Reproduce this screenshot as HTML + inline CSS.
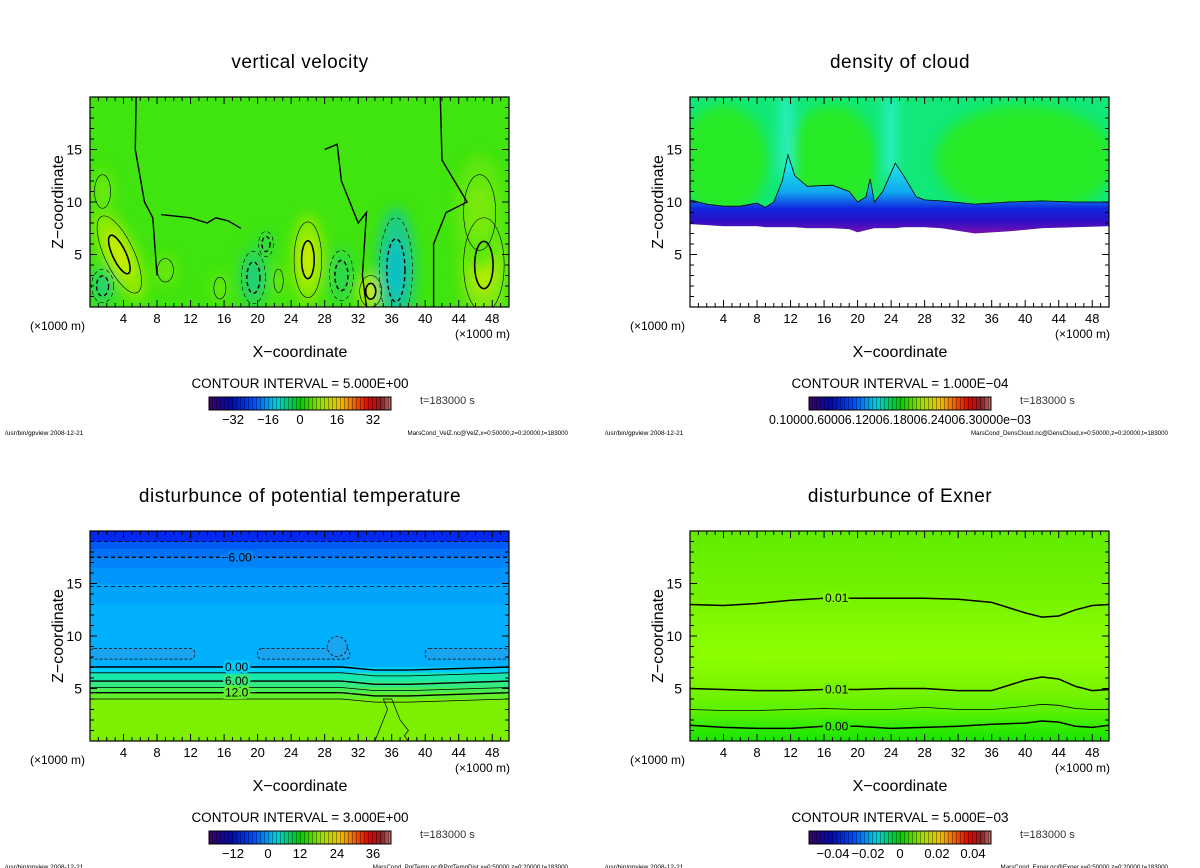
<!DOCTYPE html>
<html><head><meta charset="utf-8"><style>
html,body{margin:0;padding:0;background:#fff;}
svg{display:block;font-family:"Liberation Sans","DejaVu Sans",sans-serif;}
</style></head><body>
<svg id="fig" width="1200" height="868" viewBox="0 0 1200 868" xmlns="http://www.w3.org/2000/svg">
<defs>
<linearGradient id="cbar" x1="0" x2="1" y1="0" y2="0">
<stop offset="0" stop-color="#3a0060"/><stop offset="0.12" stop-color="#0008b0"/><stop offset="0.25" stop-color="#0050ff"/><stop offset="0.37" stop-color="#00d0e0"/><stop offset="0.5" stop-color="#00c800"/><stop offset="0.62" stop-color="#a0e000"/><stop offset="0.72" stop-color="#f0c000"/><stop offset="0.8" stop-color="#f06000"/><stop offset="0.88" stop-color="#e00000"/><stop offset="0.95" stop-color="#802828"/><stop offset="1" stop-color="#d07070"/>
</linearGradient>
<pattern id="stripes" width="4" height="20" patternUnits="userSpaceOnUse"><rect x="0" y="0" width="1" height="20" fill="rgba(0,0,0,0.35)"/></pattern>
<filter id="blur6" x="-50%" y="-50%" width="200%" height="200%"><feGaussianBlur stdDeviation="6"/></filter>
<filter id="blur3" x="-50%" y="-50%" width="200%" height="200%"><feGaussianBlur stdDeviation="3"/></filter>
<linearGradient id="cloudG" gradientUnits="userSpaceOnUse" x1="0" x2="0" y1="150" y2="230">
<stop offset="0" stop-color="#20f0e0"/><stop offset="0.45" stop-color="#10a8f0"/><stop offset="0.68" stop-color="#1028e0"/><stop offset="0.85" stop-color="#2810c8"/><stop offset="1" stop-color="#7010b0"/>
</linearGradient>
<linearGradient id="exnerG" x1="0" x2="0" y1="0" y2="1">
<stop offset="0" stop-color="#62ec00"/><stop offset="0.3" stop-color="#72f200"/><stop offset="0.45" stop-color="#84fa00"/><stop offset="0.6" stop-color="#8cff00"/><stop offset="0.75" stop-color="#7af400"/><stop offset="0.86" stop-color="#5af000"/><stop offset="0.93" stop-color="#34ec00"/><stop offset="1" stop-color="#18e400"/>
</linearGradient>
<clipPath id="c1"><rect x="90" y="97" width="419" height="210"/></clipPath>
<clipPath id="c2"><rect x="690" y="97" width="419" height="210"/></clipPath>
<clipPath id="c3"><rect x="90" y="531" width="419" height="210"/></clipPath>
<clipPath id="c4"><rect x="690" y="531" width="419" height="210"/></clipPath>
</defs>
</svg>
<script>
// ---------- data ----------
const xTicks=[4,8,12,16,20,24,28,32,36,40,44,48];
const zTicks=[5,10,15];
// vertical velocity: positive (updraft) blobs
const upX=[3.5,26,33.5,47,9,15.5,22.5,46.5,1.5];
const upZ=[5,4.5,1.5,4,3.5,1.8,2.5,9,11];
const upRx=[1.6,1.5,1.2,2.2,1.2,0.9,0.7,2.4,1.2];
const upRz=[4,3.6,1.5,4.5,1.4,1.3,1.4,4.5,2];
const upVal=[14,14,16,12,5,5,5,6,5];
// vertical velocity: negative (downdraft) blobs
const dnX=[1.5,19.5,30,36.5,21];
const dnZ=[2,2.8,3,3.5,6];
const dnRx=[1.2,1.3,1.3,1.8,0.8];
const dnRz=[1.6,2.5,2.4,5,1.2];
const dnVal=[-9,-10,-6,-16,-5];
// density of cloud: cloud top / base
const cloudX=[0,2,4,6,8,9,10,11,11.7,12.5,14,17,19,20,21,21.5,22,23,24.5,25.5,27,28,30,34,38,42,46,50];
const cloudTop=[10.2,9.8,9.6,9.6,9.9,9.5,10,12,14.5,12.5,11.5,11.6,11,10,10.5,12.2,10,11,13.7,12.5,10.5,10.2,10.1,9.8,10,10.1,10,10];
const cloudBase=[7.9,7.8,7.7,7.7,7.7,7.6,7.6,7.6,7.6,7.6,7.5,7.5,7.4,7.1,7.3,7.4,7.5,7.5,7.5,7.6,7.6,7.6,7.5,7.0,7.2,7.5,7.6,7.7];
// potential temperature: band boundaries (z top) and values
const ptBandTop=[20,19,18.3,17.5,16.5,15,13,7.05,6.5,5.7,5.1,4.6,4.0];
const ptBandVal=[-12,-10,-9,-8,-7,-6,-5,0,3,6,9,12,15];
const ptLineZ=[19,17.5,14.7,7.05,6.5,5.7,5.1,4.6,4.0];
const ptLineVal=[-9,-6,-3,0,3,6,9,12,15];
// Exner contours
const exX=[0,4,8,12,16,20,24,28,32,36,40,42,44,46,48,50];
const ex13=[13,12.9,13.1,13.4,13.6,13.6,13.6,13.6,13.5,13.2,12.2,11.8,11.9,12.5,12.9,13];
const ex5=[5,4.9,4.8,4.8,4.9,4.9,5,5,4.8,4.8,5.8,6.1,5.9,5.2,4.8,4.9];
const ex3=[3,2.9,2.9,3,3.1,3,3,3.2,3,3,3.3,3.5,3.4,3.1,3,3];
const ex15=[1.5,1.3,1.2,1.2,1.4,1.4,1.2,1.3,1.4,1.6,1.7,1.9,1.8,1.4,1.3,1.5];
const cb1Labels=["\u221232","\u221216","0","16","32"];
const cb3Labels=["\u221212","0","12","24","36"];
const cb4Labels=["\u22120.04","\u22120.02","0","0.02","0.04"];

// ---------- helpers ----------
const NS="http://www.w3.org/2000/svg";
const svg=document.getElementById('fig');
function mk(tag,attrs,parent,text){const e=document.createElementNS(NS,tag);for(const k in attrs)e.setAttribute(k,attrs[k]);if(text!==undefined)e.textContent=text;(parent||svg).appendChild(e);return e;}
function axes(ox,oy){return {X:km=>ox+km*419/50, Z:km=>oy+210-km*210/20};}
function velColor(v){
  if(v>=0){const t=Math.min(v/16,1);const r=Math.round(61+t*(225-61)),g=Math.round(230+t*(238-230)),b=Math.round(12*(1-t));return `rgb(${r},${g},${b})`;}
  const t=Math.min(-v/16,1);return `rgb(${Math.round(61*(1-t))},${Math.round(230-t*50)},${Math.round(12+t*238)})`;}
function ptColor(v){
  if(v<=0){const t=Math.min(-v/12,1);return `rgb(0,${Math.round(205-t*t*165)},${Math.round(255-t*t*15)})`;}
  const t=Math.min(v/15,1);return `rgb(${Math.round(t*124)},${Math.round(230+t*10)},${Math.round(215*(1-t))})`;}
function poly(A,xs,zs){return xs.map((x,i)=>A.X(x).toFixed(1)+','+A.Z(zs[i]).toFixed(1)).join(' ');}

function frame(ox,oy,dx,dy,title,fname,cint,cbLabels,cbName){
  const A=axes(ox,oy);
  const g=mk('g',{});
  
  
  const box=mk('rect',{x:ox,y:oy,width:419,height:210,fill:'none',stroke:'#000','stroke-width':1.2},g);
  
  
  for(let k=1;k<50;k++){const L=k%4===0?7:4;
    const t1=mk('line',{x1:A.X(k),x2:A.X(k),y1:oy+210,y2:oy+210-L,stroke:'#000','stroke-width':1},g);
    
    
    const t2=mk('line',{x1:A.X(k),x2:A.X(k),y1:oy,y2:oy+L,stroke:'#000','stroke-width':1},g);
    
    }
  for(let k=1;k<20;k++){const L=k%5===0?7:4;
    const t1=mk('line',{x1:ox,x2:ox+L,y1:A.Z(k),y2:A.Z(k),stroke:'#000','stroke-width':1},g);
    
    
    const t2=mk('line',{x1:ox+419,x2:ox+419-L,y1:A.Z(k),y2:A.Z(k),stroke:'#000','stroke-width':1},g);
    
    }
  xTicks.forEach(v=>{const t=mk('text',{x:A.X(v),y:oy+226,'font-size':13,'text-anchor':'middle'},g,String(v));
    
    });
  zTicks.forEach(v=>{const t=mk('text',{x:ox-8,y:A.Z(v)+5,'font-size':14,'text-anchor':'end'},g,String(v));
    
    });
  let t=mk('text',{x:300+dx,y:68+dy,'font-size':19,'text-anchor':'middle','letter-spacing':'0.5'},svg,title);
  
  
  t=mk('text',{x:63+dx,y:202+dy,'font-size':16,'text-anchor':'middle',transform:`rotate(-90 ${63+dx} ${202+dy})`},svg,'Z\u2212coordinate');
  
  
  t=mk('text',{x:300+dx,y:357+dy,'font-size':16,'text-anchor':'middle'},svg,'X\u2212coordinate');
  
  
  t=mk('text',{x:30+dx,y:330+dy,'font-size':12},svg,'(\u00d71000 m)');
  
  
  t=mk('text',{x:455+dx,y:338+dy,'font-size':12},svg,'(\u00d71000 m)');
  
  
  t=mk('text',{x:300+dx,y:388+dy,'font-size':13.5,'text-anchor':'middle'},svg,'CONTOUR INTERVAL = '+cint);
  
  
  let r=mk('rect',{x:209+dx,y:397+dy,width:182,height:13,fill:'url(#cbar)'});
  
  
  r=mk('rect',{x:209+dx,y:397+dy,width:182,height:13,fill:'url(#stripes)',stroke:'#000','stroke-width':1});
  
  
  if(cbLabels){const pos=[233,268,300,337,373];
    cbLabels.forEach((s,i)=>{const l=mk('text',{x:pos[i]+dx,y:424+dy,'font-size':13,'text-anchor':'middle'},svg,s);
      
      });}
  t=mk('text',{x:420+dx,y:404+dy,'font-size':11,fill:'#333'},svg,'t=183000 s');
  
  
  t=mk('text',{x:5+dx,y:435+dy,'font-size':6.5},svg,'/usr/bin/gpview   2008-12-21');
  
  
  t=mk('text',{x:568+dx,y:435+dy,'font-size':6.2,'text-anchor':'end'},svg,fname);
  
  
  return A;
}
function contourLabel(x,y,s,bg){const t=mk('text',{x:x,y:y+4,'font-size':12,'text-anchor':'middle',stroke:bg,'stroke-width':5,'paint-order':'stroke',fill:'#000'},svg,s);
  
  }

// ---------- panel 1: vertical velocity ----------
(function(){
  const A=axes(90,97);
  const g=mk('g',{'clip-path':'url(#c1)'});
  
  
  const bg=mk('rect',{x:90,y:97,width:419,height:210,fill:'#40e40e'},g);
  
  
  const fg=mk('g',{filter:'url(#blur6)'},g);
  upX.forEach((x,i)=>{const rot=i===0?-25:0;
    const e=mk('ellipse',{cx:A.X(x),cy:A.Z(upZ[i]),rx:upRx[i]*8.38*1.3,ry:upRz[i]*10.5*1.2,fill:velColor(upVal[i]*0.55),transform:`rotate(${rot} ${A.X(x)} ${A.Z(upZ[i])})`},fg);
    
    
    const e2=mk('ellipse',{cx:A.X(x),cy:A.Z(upZ[i]),rx:upRx[i]*8.38*0.6,ry:upRz[i]*10.5*0.6,fill:velColor(upVal[i]),transform:`rotate(${rot} ${A.X(x)} ${A.Z(upZ[i])})`},fg);
    
    });
  dnX.forEach((x,i)=>{
    const e=mk('ellipse',{cx:A.X(x),cy:A.Z(dnZ[i]),rx:dnRx[i]*8.38*1.3,ry:dnRz[i]*10.5*1.2,fill:velColor(dnVal[i]*0.5)},fg);
    
    
    const e2=mk('ellipse',{cx:A.X(x),cy:A.Z(dnZ[i]),rx:dnRx[i]*8.38*0.6,ry:dnRz[i]*10.5*0.6,fill:velColor(dnVal[i]*0.8)},fg);
    
    });
  upX.forEach((x,i)=>{const rot=i===0?-25:0;
    if(upVal[i]>=10){
    const c=mk('ellipse',{cx:A.X(x),cy:A.Z(upZ[i]),rx:upRx[i]*8.38*0.5,ry:upRz[i]*10.5*0.5,fill:'none',stroke:'#000','stroke-width':1.6,transform:`rotate(${rot} ${A.X(x)} ${A.Z(upZ[i])})`},g);
    
    }
    const c2=mk('ellipse',{cx:A.X(x),cy:A.Z(upZ[i]),rx:upRx[i]*8.38*(upVal[i]>=10?1.1:0.8),ry:upRz[i]*10.5*(upVal[i]>=10?1.0:0.8),fill:'none',stroke:'#000','stroke-width':0.6,transform:`rotate(${rot} ${A.X(x)} ${A.Z(upZ[i])})`},g);
    
    });
  dnX.forEach((x,i)=>{
    const c=mk('ellipse',{cx:A.X(x),cy:A.Z(dnZ[i]),rx:dnRx[i]*8.38*0.6,ry:dnRz[i]*10.5*0.6,fill:'none',stroke:'#000','stroke-width':1.4,'stroke-dasharray':'4 3'},g);
    
    
    const c2=mk('ellipse',{cx:A.X(x),cy:A.Z(dnZ[i]),rx:dnRx[i]*8.38*1.1,ry:dnRz[i]*10.5*1.0,fill:'none',stroke:'#000','stroke-width':0.6,'stroke-dasharray':'4 3'},g);
    
    });
  const zx=[[5.5,20,5.4,15,6.5,10,7.5,8.5,8,3],[41.8,20,42,14,43.5,12,45,10,42.5,9,41,6,41,0],[28,15,29.5,15.5,30,12,32,8,33,9,32.5,3,33,0],[8.5,8.8,12,8.5,14,8,15,8.5,16.5,8.2,18,7.5]];
  zx.forEach(a=>{const xs=[],zs=[];for(let i=0;i<a.length;i+=2){xs.push(a[i]);zs.push(a[i+1]);}
    const p=mk('polyline',{points:poly(A,xs,zs),fill:'none',stroke:'#000','stroke-width':1.4},g);
    
    });
})();
frame(90,97,0,0,'vertical velocity','MarsCond_VelZ.nc@VelZ,x=0:50000,z=0:20000,t=183000','5.000E+00',cb1Labels,'velocity');

// ---------- panel 2: density of cloud ----------
(function(){
  const A=axes(690,97);
  const g=mk('g',{'clip-path':'url(#c2)'});
  
  
  const bg=mk('rect',{x:690,y:97,width:419,height:210,fill:'#12e878'},g);
  
  
  const fg=mk('g',{filter:'url(#blur6)'},g);
  [[4,14],[17,14],[40,14]].forEach(p=>{const e=mk('ellipse',{cx:A.X(p[0]),cy:A.Z(p[1]),rx:p[0]===40?90:45,ry:55,fill:'#28ea28'},fg);
    
    });
  [11.5,24].forEach(x=>{const e=mk('rect',{x:A.X(x)-5,y:97,width:10,height:80,fill:'#30f0d8'},fg);
    
    });
  const grad=document.getElementById('cloudG');grad.setAttribute('y1',A.Z(14));grad.setAttribute('y2',A.Z(7.2));
  const xs=cloudX.concat(cloudX.slice().reverse()),zs=cloudTop.concat(cloudBase.slice().reverse());
  const cl=mk('polygon',{points:poly(A,xs,zs),fill:'url(#cloudG)'},g);
  
  
  const wh=mk('polygon',{points:poly(A,cloudX,cloudBase)+` ${A.X(50)},${A.Z(0)} ${A.X(0)},${A.Z(0)}`,fill:'#fff'},g);
  
  
  const ct=mk('polyline',{points:poly(A,cloudX,cloudTop),fill:'none',stroke:'#000','stroke-width':0.8},g);
  
  
})();
frame(690,97,600,0,'density of cloud','MarsCond_DensCloud.nc@DensCloud,x=0:50000,z=0:20000,t=183000','1.000E\u221204',null,'cloud');
(function(){const t=mk('text',{x:900,y:424,'font-size':13,'text-anchor':'middle',textLength:262,lengthAdjust:'spacingAndGlyphs'},svg,'0.10000.60006.12006.18006.24006.30000e\u221203');
  
  })();

// ---------- panel 3: potential temperature ----------
(function(){
  const A=axes(90,531);
  const g=mk('g',{'clip-path':'url(#c3)'});
  
  
  ptBandTop.forEach((zt,i)=>{const zb=i+1<ptBandTop.length?ptBandTop[i+1]:0;
    const r=mk('rect',{x:90,y:A.Z(zt),width:419,height:A.Z(zb)-A.Z(zt)+0.5,fill:ptColor(ptBandVal[i])},g);
    
    });
  [[0,12.5],[20,31],[40,50]].forEach(s=>{const r=mk('rect',{x:A.X(s[0]),y:A.Z(8.8),width:A.X(s[1])-A.X(s[0]),height:A.Z(7.8)-A.Z(8.8),rx:4,fill:'#1aa4f0',stroke:'#000','stroke-width':0.7,'stroke-dasharray':'3 2'},g);
    
    });
  const bump=mk('ellipse',{cx:A.X(29.5),cy:A.Z(9),rx:10,ry:10,fill:'#1aa4f0',stroke:'#000','stroke-width':0.7,'stroke-dasharray':'3 2'},g);
  
  
  ptLineZ.forEach((z,i)=>{const v=ptLineVal[i];const thick=v%6===0;
    const xs=[0,10,20,30,34,36,38,50],zs=xs.map(x=>z+(z<8&&x>=34&&x<=38?-0.3:0)+(z>14&&z<15.5?(x>=40&&x<=44?0.3:0):0));
    const p=mk('polyline',{points:poly(A,xs,zs),fill:'none',stroke:'#000','stroke-width':thick?1.4:0.8,'stroke-dasharray':v<0?'4 3':'none'},g);
    
    });
  const p=mk('polyline',{points:poly(A,[34,35,35.5,35,36,36.5,37,38,37.5,38],[0,2,3,4,4,3,2,1,0.5,0]),fill:'none',stroke:'#000','stroke-width':0.7},g);
  
  
  contourLabel(A.X(17.5),A.Z(17.5),'\u22126.00',ptColor(-8));
  contourLabel(A.X(17.5),A.Z(7.05),'0.00',ptColor(0));
  contourLabel(A.X(17.5),A.Z(5.7),'6.00',ptColor(6));
  contourLabel(A.X(17.5),A.Z(4.6),'12.0',ptColor(12));
})();
frame(90,531,0,434,'disturbunce of potential temperature','MarsCond_PotTemp.nc@PotTempDist,x=0:50000,z=0:20000,t=183000','3.000E+00',cb3Labels,'temperature');

// ---------- panel 4: Exner ----------
(function(){
  const A=axes(690,531);
  const g=mk('g',{'clip-path':'url(#c4)'});
  
  
  const bg=mk('rect',{x:690,y:531,width:419,height:210,fill:'url(#exnerG)'},g);
  
  
  [[ex13,1.5],[ex5,1.5],[ex3,0.8],[ex15,1.5]].forEach(a=>{
    const p=mk('polyline',{points:poly(A,exX,a[0]),fill:'none',stroke:'#000','stroke-width':a[1]},g);
    
    });
  contourLabel(A.X(17.5),A.Z(13.6),'0.01','#80f800');
  contourLabel(A.X(17.5),A.Z(4.9),'0.01','#74f200');
  contourLabel(A.X(17.5),A.Z(1.4),'0.00','#30ec00');
})();
frame(690,531,600,434,'disturbunce of Exner','MarsCond_Exner.nc@Exner,x=0:50000,z=0:20000,t=183000','5.000E\u221203',cb4Labels,'exner');
</script>
</body></html>
